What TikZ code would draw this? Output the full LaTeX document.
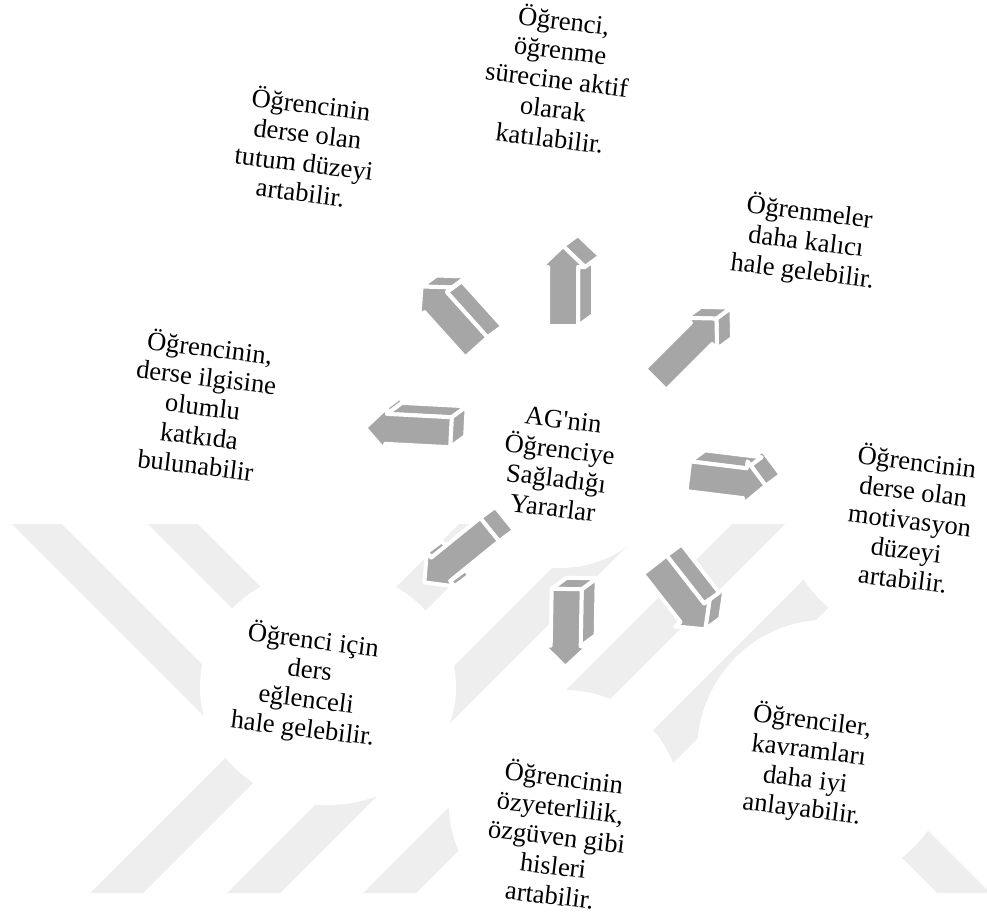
\documentclass[tikz,border=0pt]{standalone}
\usepackage{fontspec}
\setmainfont{Liberation Serif}
\newfontfamily\tnr{Liberation Serif}
\usetikzlibrary{calc}
\definecolor{wm}{RGB}{238,238,238}
\definecolor{arrowgray}{RGB}{166,166,166}
% point of a block arrow: local (u along axis, v to the left) -> picture coordinates
\newcommand\gpt[3]{%
  \pgfmathsetmacro\gX{\gcx+(#2)*cos(\ga)-(#3)*sin(\ga)}%
  \pgfmathsetmacro\gY{\gcy-(#2)*sin(\ga)-(#3)*cos(\ga)}%
  \coordinate (#1) at (\gX,\gY);}
% extruded side face, drawn only when it faces the viewer
\newcommand\gside[4]{%
  \pgfmathparse{15*((#3)*sin(\ga)+(#4)*cos(\ga))-11*((#3)*cos(\ga)-(#4)*sin(\ga))}%
  \ifdim\pgfmathresult pt>0.5pt
    \path[arrowface] (#1) -- (#2) -- ($(#2)+(15,-11)$) -- ($(#1)+(15,-11)$) -- cycle;
  \fi}
% block arrow: name, centre x, centre y, angle, length
\newcommand\garrow[5]{%
  \def\gcx{#2}\def\gcy{#3}\def\ga{#4}%
  \pgfmathsetmacro\gl{#5/2}%
  \pgfmathsetmacro\gb{\gl-21}%
  \pgfmathsetmacro\gs{#5-21}%
  \gpt{#1-1}{-\gl}{-15}%
  \gpt{#1-2}{\gb}{-15}%
  \gpt{#1-3}{\gb}{-22}%
  \gpt{#1-4}{\gl}{0}%
  \gpt{#1-5}{\gb}{22}%
  \gpt{#1-6}{\gb}{15}%
  \gpt{#1-7}{-\gl}{15}%
  \gside{#1-1}{#1-2}{\gs}{0}%
  \gside{#1-2}{#1-3}{0}{-7}%
  \gside{#1-3}{#1-4}{21}{22}%
  \gside{#1-4}{#1-5}{-21}{22}%
  \gside{#1-5}{#1-6}{0}{-7}%
  \gside{#1-6}{#1-7}{-\gs}{0}%
  \gside{#1-7}{#1-1}{0}{-30}%
  \path[arrowface] (#1-1) -- (#1-2) -- (#1-3) -- (#1-4) -- (#1-5) -- (#1-6) -- (#1-7) -- cycle;}
\begin{document}
\begin{tikzpicture}[x=1pt,y=-1pt,
  lbl/.style={align=center, rotate=-7, inner sep=0pt,
    font=\tnr\fontsize{26.5}{29.5}\selectfont},
  arrowface/.style={fill=arrowgray, draw=white, line width=4pt, line join=round},
  band/.style={fill=wm},
  disc/.style={fill=white}]
\useasboundingbox (0,0) rectangle (987,917);
\fill[white] (0,0) rectangle (987,917);
% faint watermark bands
\begin{scope}
\clip (0,0) rectangle (987,917);
\path[band] (90,893) -- (143,893) -- (512,524) -- (459,524) -- cycle;
\path[band] (227,893) -- (280,893) -- (649,524) -- (596,524) -- cycle;
\path[band] (363,893) -- (416,893) -- (785,524) -- (732,524) -- cycle;
\path[band] (490,893) -- (543,893) -- (912,524) -- (859,524) -- cycle;
\path[band] (12,524) -- (62,524) -- (298,760) -- (248,760) -- cycle;
\path[band] (148,524) -- (198,524) -- (324,650) -- (274,650) -- cycle;
\path[band] (764,720) -- (817,720) -- (990,893) -- (937,893) -- cycle;
\end{scope}
% white discs behind the texts
\path[disc] (560,468) ellipse [x radius=108pt, y radius=100pt];
\path[disc] (328,687) ellipse [x radius=128pt, y radius=118pt];
\path[disc] (565,805) ellipse [x radius=116pt, y radius=115pt];
\path[disc] (825,752) ellipse [x radius=128pt, y radius=132pt];
\path[disc] (905,515) ellipse [x radius=120pt, y radius=120pt];
\path[disc] (205,405) ellipse [x radius=112pt, y radius=112pt];
% 3D block arrows
\garrow{aup}{563}{286}{90}{80}
\garrow{aul}{449}{317}{132}{82}
\garrow{aur}{686}{349}{45}{86}
\garrow{al}{408}{430}{177}{86}
\garrow{ar}{727}{481}{-7}{78}
\garrow{adr}{680}{597}{-52}{82}
\garrow{ad}{566}{628}{-91}{78}
\garrow{adl}{457}{556}{219}{84}
% texts
\node[lbl] (centre) at (558,464) {AG\textquotesingle nin\\Öğrenciye\\Sağladığı\\Yararlar};
\node[lbl] (t1) at (557,78) {Öğrenci,\\öğrenme\\sürecine aktif\\olarak\\katılabilir.};
\node[lbl] (t2) at (306,147) {Öğrencinin\\derse olan\\tutum düzeyi\\artabilir.};
\node[lbl] (t3) at (806,242) {Öğrenmeler\\daha kalıcı\\hale gelebilir.};
\node[lbl] (t4) at (203,405) {Öğrencinin,\\derse ilgisine\\olumlu\\katkıda\\bulunabilir};
\node[lbl] (t5) at (910,519) {Öğrencinin\\derse olan\\motivasyon\\düzeyi\\artabilir.};
\node[lbl] (t6) at (807,765) {Öğrenciler,\\kavramları\\daha iyi\\anlayabilir.};
\node[lbl] (t7) at (557,835) {Öğrencinin\\özyeterlilik,\\özgüven gibi\\hisleri\\artabilir.};
\node[lbl] (t8) at (308,685) {Öğrenci için\\ders\\eğlenceli\\hale gelebilir.};
\end{tikzpicture}
\end{document}
